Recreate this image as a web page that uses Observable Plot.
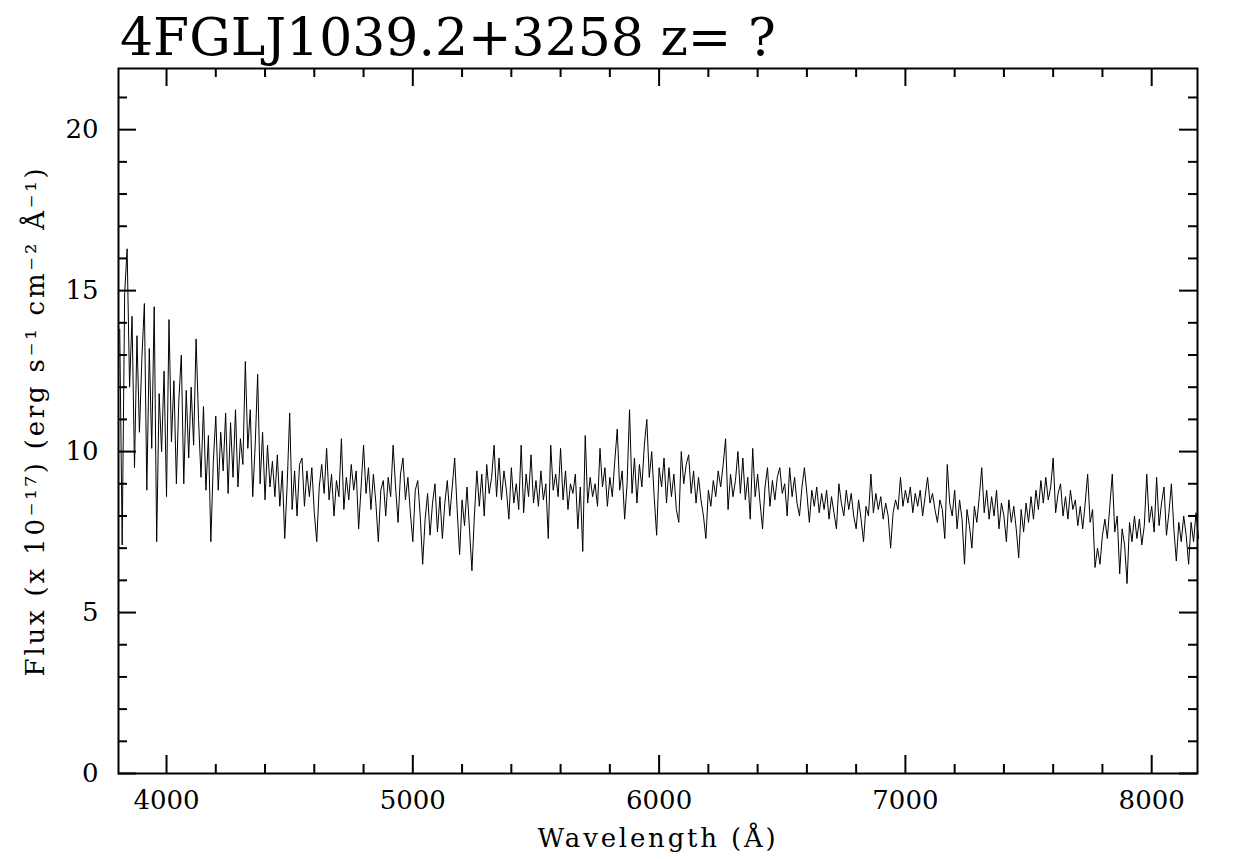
<!DOCTYPE html>
<html><head><meta charset="utf-8">
<script src="https://cdn.jsdelivr.net/npm/d3@7"></script>
<script src="https://cdn.jsdelivr.net/npm/@observablehq/plot@0.6"></script>
<style>
body{margin:0;background:#fff;width:1245px;height:859px;overflow:hidden;}
#title{position:relative;height:62px;font-family:"DejaVu Serif";font-size:52px;line-height:1;color:#000;}
#title span{position:absolute;left:120px;top:11px;white-space:pre;}
g[aria-label="x-axis label"] text, g[aria-label="y-axis label"] text{letter-spacing:2.8px;font-size:26px;}
g[aria-label="x-axis tick label"] text, g[aria-label="y-axis tick label"] text{font-size:26px;}
</style></head><body>
<div id="title"><span>4FGLJ1039.2+3258 z= ?</span></div>
<div id="chart"></div>
<script>
const titleText = "4FGLJ1039.2+3258 z= ?";
const xLabel = "Wavelength (Å)";
const yLabel = "Flux (x 10⁻¹⁷) (erg s⁻¹ cm⁻² Å⁻¹)";
const xDomain = [3805, 8186];
const yDomain = [0, 21.9];
const xMajor = [4000, 5000, 6000, 7000, 8000];
const xMinor = [3800, 4200, 4400, 4600, 4800, 5200, 5400, 5600, 5800, 6200, 6400, 6600, 6800, 7200, 7400, 7600, 7800, 8200];
const yMajor = [0, 5, 10, 15, 20];
const yMinor = [1, 2, 3, 4, 6, 7, 8, 9, 11, 12, 13, 14, 16, 17, 18, 19, 21];

const wavelength = [
3810,3820,3830,3840,3850,3860,3870,3880,3890,3900,
3910,3920,3930,3940,3950,3960,3970,3980,3990,4000,
4010,4020,4030,4040,4050,4060,4070,4080,4090,4100,
4110,4120,4130,4140,4150,4160,4170,4180,4190,4200,
4210,4220,4230,4240,4250,4260,4270,4280,4290,4300,
4310,4320,4330,4340,4350,4360,4370,4380,4390,4400,
4410,4420,4430,4440,4450,4460,4470,4480,4490,4500,
4510,4520,4530,4540,4550,4560,4570,4580,4590,4600,
4610,4620,4630,4640,4650,4660,4670,4680,4690,4700,
4710,4720,4730,4740,4750,4760,4770,4780,4790,4800,
4810,4820,4830,4840,4850,4860,4870,4880,4890,4900,
4910,4920,4930,4940,4950,4960,4970,4980,4990,5000,
5010,5020,5030,5040,5050,5060,5070,5080,5090,5100,
5110,5120,5130,5140,5150,5160,5170,5180,5190,5200,
5210,5220,5230,5240,5250,5260,5270,5280,5290,5300,
5310,5320,5330,5340,5350,5360,5370,5380,5390,5400,
5410,5420,5430,5440,5450,5460,5470,5480,5490,5500,
5510,5520,5530,5540,5550,5560,5570,5580,5590,5600,
5610,5620,5630,5640,5650,5660,5670,5680,5690,5700,
5710,5720,5730,5740,5750,5760,5770,5780,5790,5800,
5810,5820,5830,5840,5850,5860,5870,5880,5890,5900,
5910,5920,5930,5940,5950,5960,5970,5980,5990,6000,
6010,6020,6030,6040,6050,6060,6070,6080,6090,6100,
6110,6120,6130,6140,6150,6160,6170,6180,6190,6200,
6210,6220,6230,6240,6250,6260,6270,6280,6290,6300,
6310,6320,6330,6340,6350,6360,6370,6380,6390,6400,
6410,6420,6430,6440,6450,6460,6470,6480,6490,6500,
6510,6520,6530,6540,6550,6560,6570,6580,6590,6600,
6610,6620,6630,6640,6650,6660,6670,6680,6690,6700,
6710,6720,6730,6740,6750,6760,6770,6780,6790,6800,
6810,6820,6830,6840,6850,6860,6870,6880,6890,6900,
6910,6920,6930,6940,6950,6960,6970,6980,6990,7000,
7010,7020,7030,7040,7050,7060,7070,7080,7090,7100,
7110,7120,7130,7140,7150,7160,7170,7180,7190,7200,
7210,7220,7230,7240,7250,7260,7270,7280,7290,7300,
7310,7320,7330,7340,7350,7360,7370,7380,7390,7400,
7410,7420,7430,7440,7450,7460,7470,7480,7490,7500,
7510,7520,7530,7540,7550,7560,7570,7580,7590,7600,
7610,7620,7630,7640,7650,7660,7670,7680,7690,7700,
7710,7720,7730,7740,7750,7760,7770,7780,7790,7800,
7810,7820,7830,7840,7850,7860,7870,7880,7890,7900,
7910,7920,7930,7940,7950,7960,7970,7980,7990,8000,
8010,8020,8030,8040,8050,8060,8070,8080,8090,8100,
8110,8120,8130,8140,8150,8160,8170,8180,8190
];
const flux = [
13.8,7.1,14.9,16.3,12.0,14.2,9.5,13.6,10.6,12.9,
14.6,8.8,13.2,10.1,14.5,7.2,11.8,10.0,12.5,8.6,
14.1,10.3,12.2,9.0,11.6,13.0,9.0,11.9,9.8,12.0,
10.2,13.5,11.0,9.2,11.4,8.8,10.5,7.2,9.7,11.1,
8.8,10.6,9.4,11.2,8.7,10.9,9.2,11.3,8.9,10.4,
9.6,12.8,10.1,11.3,8.6,10.2,12.4,9.0,10.6,8.5,
10.2,8.9,9.7,8.6,9.9,8.3,9.4,7.3,9.0,11.2,
8.2,9.4,8.0,9.6,9.8,8.3,9.4,8.6,9.5,8.1,
7.2,8.9,9.6,8.7,10.1,8.5,9.3,8.0,9.1,8.6,
10.4,8.2,9.2,8.5,9.6,8.8,9.4,7.6,8.9,10.2,
8.7,9.5,8.2,9.3,8.4,7.2,8.8,9.1,8.0,9.2,
8.6,10.2,8.9,7.8,9.3,9.8,8.5,9.2,8.1,7.2,
8.8,9.1,8.0,6.5,7.9,8.7,7.4,8.4,9.0,7.5,
8.6,7.3,8.4,9.1,8.0,8.9,9.8,8.2,6.8,8.5,
7.7,8.9,7.6,6.3,8.0,9.4,8.3,9.3,8.0,9.6,
8.7,9.2,10.2,8.6,9.8,8.5,9.4,8.8,7.9,9.5,
8.4,9.0,8.2,10.2,8.1,9.3,8.6,9.9,8.4,9.1,
8.3,9.4,8.5,9.0,7.3,10.2,8.8,9.3,8.6,10.1,
8.5,9.4,8.2,9.0,8.7,9.3,7.6,8.9,6.9,10.5,
8.4,9.2,8.6,9.0,8.3,10.1,8.9,9.5,8.3,9.2,
8.6,9.7,10.7,8.8,9.4,7.9,9.0,11.3,8.7,9.8,
8.4,9.6,8.9,10.2,11.0,9.2,10.0,8.6,7.4,9.5,
8.9,9.8,8.4,9.5,8.6,9.3,8.2,7.8,10.0,9.0,
9.6,9.9,8.7,9.4,8.4,9.2,8.5,8.0,7.3,8.8,
8.3,9.1,8.6,9.4,8.9,9.6,10.4,8.2,9.3,8.6,
9.1,10.0,8.7,9.8,8.5,9.2,7.9,10.1,8.6,9.3,
8.4,7.6,8.9,9.5,8.3,9.1,8.5,9.2,9.5,8.7,
9.0,8.0,9.5,8.6,9.2,8.4,8.0,8.9,9.5,8.7,
7.8,8.8,8.3,8.9,8.1,8.7,8.2,8.8,7.9,8.6,
8.1,7.6,9.0,8.4,8.0,8.8,8.2,8.7,8.0,7.6,
8.5,7.9,7.2,8.3,8.0,9.3,8.1,8.7,8.2,8.6,
7.9,8.4,8.0,7.0,8.1,8.5,8.2,9.2,8.3,8.8,
8.4,8.9,8.1,8.7,8.3,8.8,8.0,8.6,9.2,8.4,
8.7,8.2,7.8,8.5,8.2,7.3,9.6,8.4,8.0,8.8,
7.6,8.5,7.9,6.5,8.2,7.7,7.0,8.3,7.8,8.6,
9.5,8.1,8.8,7.9,8.6,8.0,8.8,7.6,8.4,8.0,
7.2,8.5,7.8,8.3,7.6,6.7,8.2,7.5,8.4,7.8,
8.6,7.9,8.8,8.2,9.1,8.4,9.2,8.5,8.9,9.8,
8.1,8.7,9.0,8.0,8.6,7.9,8.8,8.2,8.5,7.7,
8.3,7.6,8.4,9.3,7.8,8.2,6.4,7.0,6.5,7.4,
7.9,7.3,8.3,9.3,7.5,8.0,6.2,7.6,7.1,5.9,
7.8,7.2,8.0,7.3,7.9,7.1,7.7,9.3,7.8,8.3,
7.5,9.2,7.7,8.4,8.9,7.4,8.1,9.0,7.6,6.6,
7.8,7.2,8.0,7.4,6.5,7.8,7.2,8.1,7.3
];

const data = wavelength.map((w, i) => ({w, f: flux[i]}));
const W = 1245, H = 797, mL = 118, mR = 48, mT = 6, mB = 86;
const frameW = W - mL - mR, frameH = H - mT - mB;
const majorLen = 18, minorLen = 9;
const font = "DejaVu Serif";

const chart = Plot.plot({
  width: W, height: H,
  marginLeft: mL, marginRight: mR, marginTop: mT, marginBottom: mB,
  style: {fontFamily: font, fontSize: "26px", background: "white", color: "black", overflow: "visible"},
  x: {domain: xDomain, axis: null},
  y: {domain: yDomain, axis: null},
  marks: [
    Plot.line(data, {x: "w", y: "f", stroke: "black", strokeWidth: 1}),
    // inward ticks, bottom & top
    Plot.ruleX(xMajor, {x: d => d, insetTop: frameH - majorLen, stroke: "black", strokeWidth: 2}),
    Plot.ruleX(xMajor, {x: d => d, insetBottom: frameH - majorLen, stroke: "black", strokeWidth: 2}),
    Plot.ruleX(xMinor.filter(d => d > xDomain[0] && d < xDomain[1]), {x: d => d, insetTop: frameH - minorLen, stroke: "black", strokeWidth: 2}),
    Plot.ruleX(xMinor.filter(d => d > xDomain[0] && d < xDomain[1]), {x: d => d, insetBottom: frameH - minorLen, stroke: "black", strokeWidth: 2}),
    // inward ticks, left & right
    Plot.ruleY(yMajor, {y: d => d, insetRight: frameW - majorLen, stroke: "black", strokeWidth: 2}),
    Plot.ruleY(yMajor, {y: d => d, insetLeft: frameW - majorLen, stroke: "black", strokeWidth: 2}),
    Plot.ruleY(yMinor, {y: d => d, insetRight: frameW - minorLen, stroke: "black", strokeWidth: 2}),
    Plot.ruleY(yMinor, {y: d => d, insetLeft: frameW - minorLen, stroke: "black", strokeWidth: 2}),
    // labels
    Plot.axisX({anchor: "bottom", ticks: xMajor, tickSize: 0, tickPadding: 17, tickFormat: "d",
      label: xLabel, labelAnchor: "center", labelArrow: "none", labelOffset: 73, fontSize: 26, fontFamily: font}),
    Plot.axisY({anchor: "left", ticks: yMajor, tickSize: 0, tickPadding: 20, tickFormat: "d",
      label: yLabel, labelAnchor: "center", labelArrow: "none", labelOffset: 93, fontSize: 26, fontFamily: font}),
    Plot.frame({stroke: "black", strokeWidth: 2})
  ]
});
document.getElementById("chart").appendChild(chart);
</script>
</body></html>
